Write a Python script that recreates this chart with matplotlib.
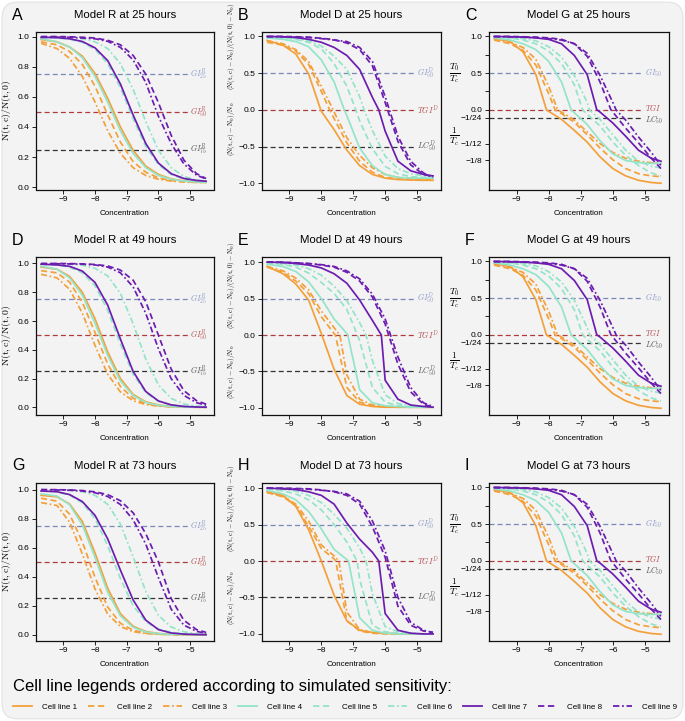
import matplotlib
matplotlib.use("Agg")
import matplotlib.pyplot as plt
from matplotlib.patches import FancyBboxPatch
from matplotlib.lines import Line2D
import numpy as np

plt.rcParams['font.family'] = ['Liberation Sans', 'DejaVu Sans']
plt.rcParams['mathtext.fontset'] = 'cm'
plt.rcParams['axes.unicode_minus'] = True

# log10 concentration grid the curves were read at
conc = [-9.7, -9.2, -8.8, -8.4, -8.0, -7.6, -7.2, -6.8, -6.4, -6.0, -5.6, -5.2, -4.8, -4.5]

cell_lines = ['Cell line %d' % i for i in range(1, 10)]

# Model R, fraction N(t,c)/N(t,0)
r25 = [
    [0.98, 0.965, 0.93, 0.87, 0.755, 0.59, 0.40, 0.245, 0.14, 0.085, 0.055, 0.042, 0.036, 0.033],
    [0.965, 0.945, 0.90, 0.815, 0.67, 0.48, 0.30, 0.17, 0.10, 0.062, 0.045, 0.037, 0.033, 0.032],
    [0.955, 0.92, 0.855, 0.735, 0.565, 0.375, 0.225, 0.13, 0.078, 0.053, 0.041, 0.035, 0.032, 0.031],
    [0.985, 0.965, 0.93, 0.86, 0.735, 0.565, 0.375, 0.225, 0.13, 0.078, 0.053, 0.041, 0.035, 0.033],
    [0.995, 0.99, 0.982, 0.962, 0.915, 0.82, 0.66, 0.455, 0.27, 0.15, 0.085, 0.055, 0.044, 0.04],
    [0.995, 0.995, 0.99, 0.985, 0.965, 0.92, 0.82, 0.65, 0.435, 0.245, 0.13, 0.072, 0.047, 0.039],
    [0.995, 0.993, 0.985, 0.967, 0.925, 0.84, 0.685, 0.48, 0.29, 0.16, 0.09, 0.058, 0.045, 0.04],
    [1.0, 1.0, 0.998, 0.995, 0.99, 0.975, 0.945, 0.875, 0.75, 0.56, 0.345, 0.18, 0.09, 0.058],
    [0.995, 0.995, 0.995, 0.99, 0.985, 0.968, 0.928, 0.845, 0.695, 0.47, 0.29, 0.155, 0.08, 0.055],
]
r49 = [
    [0.975, 0.96, 0.91, 0.80, 0.615, 0.385, 0.20, 0.09, 0.038, 0.016, 0.006, 0.003, 0.001, 0.0],
    [0.95, 0.935, 0.87, 0.73, 0.52, 0.30, 0.145, 0.063, 0.026, 0.011, 0.004, 0.002, 0.001, 0.0],
    [0.925, 0.90, 0.82, 0.655, 0.43, 0.23, 0.107, 0.046, 0.019, 0.008, 0.003, 0.001, 0.0, 0.0],
    [0.98, 0.96, 0.90, 0.78, 0.585, 0.36, 0.183, 0.082, 0.034, 0.014, 0.005, 0.002, 0.001, 0.0],
    [0.995, 0.99, 0.974, 0.935, 0.845, 0.674, 0.44, 0.23, 0.102, 0.041, 0.016, 0.006, 0.002, 0.001],
    [0.998, 0.997, 0.995, 0.988, 0.966, 0.913, 0.793, 0.582, 0.335, 0.155, 0.062, 0.023, 0.009, 0.004],
    [0.995, 0.99, 0.98, 0.947, 0.868, 0.71, 0.475, 0.25, 0.11, 0.044, 0.017, 0.006, 0.002, 0.001],
    [1.0, 1.0, 0.999, 0.997, 0.993, 0.983, 0.954, 0.884, 0.734, 0.50, 0.266, 0.116, 0.046, 0.022],
    [0.998, 0.998, 0.997, 0.995, 0.99, 0.975, 0.935, 0.838, 0.653, 0.406, 0.199, 0.083, 0.032, 0.015],
]
r73 = [
    [0.96, 0.95, 0.90, 0.78, 0.563, 0.32, 0.145, 0.058, 0.022, 0.008, 0.003, 0.001, 0.0, 0.0],
    [0.94, 0.92, 0.83, 0.64, 0.395, 0.19, 0.079, 0.03, 0.011, 0.004, 0.001, 0.0, 0.0, 0.0],
    [0.91, 0.89, 0.775, 0.557, 0.315, 0.142, 0.057, 0.021, 0.008, 0.003, 0.001, 0.0, 0.0, 0.0],
    [0.97, 0.955, 0.895, 0.757, 0.532, 0.292, 0.13, 0.051, 0.019, 0.007, 0.002, 0.001, 0.0, 0.0],
    [0.99, 0.984, 0.962, 0.909, 0.80, 0.613, 0.387, 0.20, 0.09, 0.038, 0.016, 0.006, 0.003, 0.001],
    [0.998, 0.997, 0.995, 0.985, 0.96, 0.898, 0.762, 0.538, 0.297, 0.133, 0.053, 0.02, 0.007, 0.003],
    [0.99, 0.985, 0.965, 0.917, 0.822, 0.66, 0.445, 0.24, 0.10, 0.035, 0.012, 0.004, 0.001, 0.0],
    [1.0, 0.999, 0.997, 0.993, 0.984, 0.965, 0.923, 0.84, 0.696, 0.50, 0.249, 0.099, 0.035, 0.016],
    [0.998, 0.997, 0.995, 0.99, 0.978, 0.952, 0.897, 0.792, 0.624, 0.392, 0.176, 0.066, 0.023, 0.01],
]

# Model D, (N(t,c) - N0) scaled; *_zero = concentration where the curve hits 0 (kink)
d25 = [
    [0.945, 0.88, 0.76, 0.49, -0.02, -0.27, -0.55, -0.76, -0.88, -0.93, -0.95, -0.955, -0.96, -0.96],
    [0.92, 0.88, 0.80, 0.62, 0.25, -0.12, -0.45, -0.70, -0.85, -0.92, -0.94, -0.95, -0.95, -0.95],
    [0.94, 0.90, 0.82, 0.66, 0.32, -0.03, -0.38, -0.62, -0.79, -0.88, -0.92, -0.93, -0.94, -0.94],
    [0.98, 0.96, 0.93, 0.86, 0.68, 0.38, -0.08, -0.52, -0.76, -0.88, -0.92, -0.93, -0.93, -0.93],
    [0.99, 0.98, 0.96, 0.92, 0.83, 0.63, 0.32, -0.15, -0.53, -0.77, -0.87, -0.91, -0.92, -0.92],
    [0.99, 0.985, 0.97, 0.94, 0.87, 0.73, 0.55, 0.18, -0.28, -0.63, -0.80, -0.87, -0.90, -0.91],
    [1.0, 0.995, 0.985, 0.96, 0.92, 0.85, 0.74, 0.55, 0.17, -0.29, -0.70, -0.83, -0.88, -0.90],
    [1.0, 1.0, 0.995, 0.99, 0.975, 0.955, 0.91, 0.82, 0.60, 0.10, -0.43, -0.75, -0.88, -0.91],
    [0.995, 0.995, 0.99, 0.985, 0.97, 0.95, 0.93, 0.85, 0.66, 0.18, -0.36, -0.70, -0.86, -0.92],
]
d25_zero = [-8.02, -7.74, -7.63, -7.28, -6.92, -6.66, -6.2, None, None]

d49 = [
    [0.94, 0.84, 0.70, 0.48, 0.02, -0.47, -0.83, -0.95, -0.98, -0.99, -0.99, -0.99, -0.99, -0.99],
    [0.93, 0.86, 0.74, 0.57, 0.25, 0.02, -0.72, -0.92, -0.97, -0.985, -0.99, -0.99, -0.99, -0.99],
    [0.94, 0.88, 0.78, 0.62, 0.33, 0.10, -0.55, -0.88, -0.96, -0.98, -0.99, -0.99, -0.99, -0.99],
    [0.97, 0.94, 0.87, 0.73, 0.50, 0.22, 0.02, -0.75, -0.93, -0.97, -0.98, -0.99, -0.99, -0.99],
    [0.99, 0.97, 0.93, 0.85, 0.72, 0.57, 0.35, -0.08, -0.72, -0.92, -0.97, -0.98, -0.99, -0.99],
    [0.99, 0.98, 0.96, 0.91, 0.82, 0.67, 0.47, 0.17, -0.35, -0.82, -0.94, -0.97, -0.98, -0.99],
    [1.0, 0.995, 0.98, 0.96, 0.92, 0.84, 0.71, 0.48, 0.20, -0.62, -0.88, -0.96, -0.98, -0.99],
    [1.0, 1.0, 0.99, 0.98, 0.96, 0.93, 0.86, 0.74, 0.52, 0.15, -0.40, -0.78, -0.95, -0.99],
    [1.0, 0.995, 0.99, 0.98, 0.965, 0.94, 0.88, 0.77, 0.56, 0.22, -0.30, -0.72, -0.93, -0.98],
]
d49_zero = [None, -7.56, -7.42, -7.17, -6.87, -6.6, -6.12, None, None]

d73 = [
    [0.95, 0.90, 0.75, 0.43, 0.0, -0.47, -0.82, -0.95, -0.98, -0.99, -1.0, -1.0, -1.0, -1.0],
    [0.94, 0.88, 0.76, 0.48, 0.17, 0.03, -0.82, -0.96, -0.99, -1.0, -1.0, -1.0, -1.0, -1.0],
    [0.94, 0.89, 0.78, 0.55, 0.22, 0.07, -0.70, -0.94, -0.98, -0.99, -1.0, -1.0, -1.0, -1.0],
    [0.97, 0.92, 0.84, 0.68, 0.44, 0.16, 0.02, -0.78, -0.95, -0.99, -1.0, -1.0, -1.0, -1.0],
    [0.99, 0.96, 0.92, 0.84, 0.70, 0.50, 0.26, -0.25, -0.88, -0.97, -0.99, -1.0, -1.0, -1.0],
    [0.99, 0.98, 0.96, 0.90, 0.80, 0.64, 0.45, 0.18, -0.45, -0.90, -0.97, -0.99, -1.0, -1.0],
    [1.0, 0.99, 0.98, 0.95, 0.90, 0.78, 0.52, 0.30, 0.12, -0.72, -0.95, -0.99, -1.0, -1.0],
    [1.0, 1.0, 0.995, 0.99, 0.975, 0.95, 0.90, 0.78, 0.47, 0.05, -0.62, -0.88, -0.96, -0.98],
    [1.0, 0.995, 0.99, 0.985, 0.97, 0.955, 0.92, 0.82, 0.55, 0.14, -0.50, -0.84, -0.95, -0.98],
]
d73_zero = [None, -7.55, -7.45, -7.15, -6.88, -6.6, -6.2, None, None]

# Model G (same picture at 25, 49 and 73 hours), values in axis position units
g_all = [
    [0.97, 0.93, 0.79, 0.48, -0.02, -0.13, -0.28, -0.44, -0.64, -0.80, -0.90, -0.96, -0.99, -1.0],
    [0.95, 0.90, 0.81, 0.61, 0.22, -0.05, -0.17, -0.34, -0.52, -0.68, -0.80, -0.87, -0.90, -0.91],
    [0.96, 0.92, 0.85, 0.69, 0.32, -0.03, -0.14, -0.30, -0.46, -0.58, -0.66, -0.70, -0.72, -0.73],
    [0.98, 0.95, 0.90, 0.82, 0.66, 0.38, -0.04, -0.20, -0.42, -0.60, -0.69, -0.72, -0.73, -0.73],
    [0.99, 0.98, 0.95, 0.90, 0.80, 0.63, 0.34, -0.06, -0.22, -0.44, -0.62, -0.76, -0.86, -0.90],
    [0.99, 0.98, 0.97, 0.94, 0.86, 0.72, 0.47, 0.10, -0.13, -0.34, -0.55, -0.70, -0.77, -0.79],
    [1.0, 0.995, 0.99, 0.98, 0.96, 0.90, 0.74, 0.48, -0.03, -0.18, -0.36, -0.55, -0.66, -0.70],
    [1.0, 1.0, 0.995, 0.99, 0.98, 0.96, 0.90, 0.73, 0.38, -0.03, -0.25, -0.45, -0.66, -0.80],
    [0.995, 0.995, 0.99, 0.985, 0.97, 0.95, 0.90, 0.77, 0.47, 0.10, -0.14, -0.37, -0.58, -0.76],
]
g_zero = [-8.07, -7.8, -7.72, -7.3, -6.94, -6.73, -6.5, -6.06, -5.9]

line_colors = ['#f4a03a'] * 3 + ['#93e4c9'] * 3 + ['#6c1db0'] * 3
line_styles = ['-', (0, (3.5, 2)), (0, (3.5, 1.5, 1, 1.5))] * 3

ref_blue, ref_red, ref_black = '#7788bb', '#ad3d3d', '#333333'
lab_blue, lab_red, lab_black = '#8d9bc8', '#b55050', '#555555'

# reference lines per model: (y, line colour, label colour, label, label offset)
refs = {
    'R': [(0.75, ref_blue, lab_blue, r'$GI^{R}_{25}$', 0.0),
          (0.5, ref_red, lab_red, r'$GI^{R}_{50}$', 0.0),
          (0.25, ref_black, lab_black, r'$GI^{R}_{75}$', 0.0)],
    'D': [(0.5, ref_blue, lab_blue, r'$GI^{D}_{50}$', 0.0),
          (0.0, ref_red, lab_red, r'$TGI^{D}$', 0.0),
          (-0.5, ref_black, lab_black, r'$LC^{D}_{50}$', 0.0)],
    'G': [(0.5, ref_blue, lab_blue, r'$GI_{50}$', 0.0),
          (0.0, ref_red, lab_red, r'$TGI$', 0.035),
          (-0.105, ref_black, lab_black, r'$LC_{50}$', -0.035)],
}

panels = [
    ('A', 'Model R at 25 hours', 'R', r25, None, (-0.015, 1.03)),
    ('B', 'Model D at 25 hours', 'D', d25, d25_zero, (-1.085, 1.06)),
    ('C', 'Model G at 25 hours', 'G', g_all, g_zero, (-1.085, 1.06)),
    ('D', 'Model R at 49 hours', 'R', r49, None, (-0.05, 1.045)),
    ('E', 'Model D at 49 hours', 'D', d49, d49_zero, (-1.09, 1.07)),
    ('F', 'Model G at 49 hours', 'G', g_all, g_zero, (-1.085, 1.06)),
    ('G', 'Model R at 73 hours', 'R', r73, None, (-0.04, 1.045)),
    ('H', 'Model D at 73 hours', 'D', d73, d73_zero, (-1.09, 1.07)),
    ('I', 'Model G at 73 hours', 'G', g_all, g_zero, (-1.085, 1.06)),
]
d_label_pos = {'B': (0.86, -0.26), 'E': (0.68, -0.51), 'H': (0.72, -0.51)}

W, H = 685, 721
col_left = [36, 262, 489]
col_width = [178, 179, 180]
row_top = [32, 257, 483]
ax_h = 157.5

fig = plt.figure(figsize=(W / 100, H / 100), dpi=100, facecolor='white')
fig.patches.append(FancyBboxPatch((0.003, 0.003), 0.994, 0.994,
                                  boxstyle='round,pad=0,rounding_size=0.022',
                                  transform=fig.transFigure, facecolor='#f3f3f3',
                                  edgecolor='#e2e2e2', lw=0.8, zorder=-10))


def curve_xy(vals, zero):
    xs, ys = list(conc), list(vals)
    if zero is not None:
        i = int(np.searchsorted(xs, zero))
        xs.insert(i, zero)
        ys.insert(i, 0.0)
    return xs, ys


for k, (letter, title, model, data, zeros, ylim) in enumerate(panels):
    r, c = divmod(k, 3)
    left = col_left[c] / W
    bottom = 1 - (row_top[r] + ax_h) / H
    ax = fig.add_axes([left, bottom, col_width[c] / W, ax_h / H])
    ax.set_facecolor('#f3f3f3')
    xlim = (-9.86, -4.25)
    ax.set_xlim(*xlim)
    ax.set_ylim(*ylim)

    for y, lc, tc, lab, dy in refs[model]:
        ax.plot([xlim[0], -5.05], [y, y], color=lc, lw=0.9, ls=(0, (4, 2.5)), zorder=1)
        ax.text(-5.0, y + dy, lab, color=tc, fontsize=5.6 if model == 'G' else 5.8,
                va='center', ha='left')

    for i in range(9):
        z = zeros[i] if zeros is not None else None
        xs, ys = curve_xy(data[i], z)
        ax.plot(xs, ys, color=line_colors[i], ls=line_styles[i], lw=1.25, zorder=2 + i)

    ax.set_xticks([-9, -8, -7, -6, -5])
    ax.set_xticklabels(['\u22129', '\u22128', '\u22127', '\u22126', '\u22125'])
    if model == 'R':
        yt = [0.0, 0.2, 0.4, 0.6, 0.8, 1.0]
        ax.set_yticks(yt)
        ax.set_yticklabels(['%.1f' % v for v in yt])
        ax.set_ylabel(r'$\mathrm{N(t,c)/N(t,0)}$', fontsize=7, labelpad=3)
    elif model == 'D':
        ax.set_yticks([-1.0, -0.5, 0.0, 0.5, 1.0])
        ax.set_yticklabels(['\u22121.0', '\u22120.5', '0.0', '0.5', '1.0'])
        yu, yl = d_label_pos[letter]
        ax.text(-0.17, yu, r'$\mathrm{(N(t,c)-N_0)/(N(t,0)-N_0)}$', rotation=90,
                fontsize=5.0, ha='center', va='center',
                transform=ax.get_yaxis_transform(), clip_on=False)
        ax.text(-0.17, yl, r'$\mathrm{(N(t,c)-N_0)/N_0}$', rotation=90,
                fontsize=5.0, ha='center', va='center',
                transform=ax.get_yaxis_transform(), clip_on=False)
    else:
        ax.set_yticks([1.0, 0.75, 0.5, 0.25, 0.0, -0.105, -0.461, -0.685])
        ax.set_yticklabels(['1.0', '', '0.5', '', '0.0', '\u22121/24', '\u22121/12', '\u22121/8'])
        ax.text(-0.19, 0.5, r'$\frac{T_0}{T_c}$', fontsize=9.5, ha='center', va='center',
                transform=ax.get_yaxis_transform(), clip_on=False)
        ax.text(-0.19, -0.37, r'$\frac{1}{T_c}$', fontsize=9.5, ha='center', va='center',
                transform=ax.get_yaxis_transform(), clip_on=False)

    ax.tick_params(labelsize=6, length=3, width=0.7, pad=2, color='#222222')
    for s in ax.spines.values():
        s.set_linewidth(0.9)
        s.set_color('#111111')
    ax.set_xlabel('Concentration', fontsize=5.8, labelpad=5)

    # title and panel letter
    cx = (col_left[c] + col_width[c] / 2) / W
    ty = 1 - (row_top[r] - 17) / H
    fig.text(cx, ty, title, fontsize=8.2, ha='center', va='center')
    fig.text((col_left[c] - 24) / W, ty, letter, fontsize=11.5, ha='left', va='center')

fig.text(13 / W, 1 - 686 / H, 'Cell line legends ordered according to simulated sensitivity:',
         fontsize=12, ha='left', va='center')
handles = [Line2D([0], [0], color=line_colors[i], ls=line_styles[i], lw=1.3) for i in range(9)]
fig.legend(handles, cell_lines, loc='center left', bbox_to_anchor=(13 / W, 1 - 707 / H),
           ncol=9, frameon=False, fontsize=5.8, handlelength=2.4, handletextpad=1.2,
           columnspacing=1.35, borderaxespad=0, borderpad=0)

fig.savefig('out.png', dpi=100, facecolor=fig.get_facecolor())
